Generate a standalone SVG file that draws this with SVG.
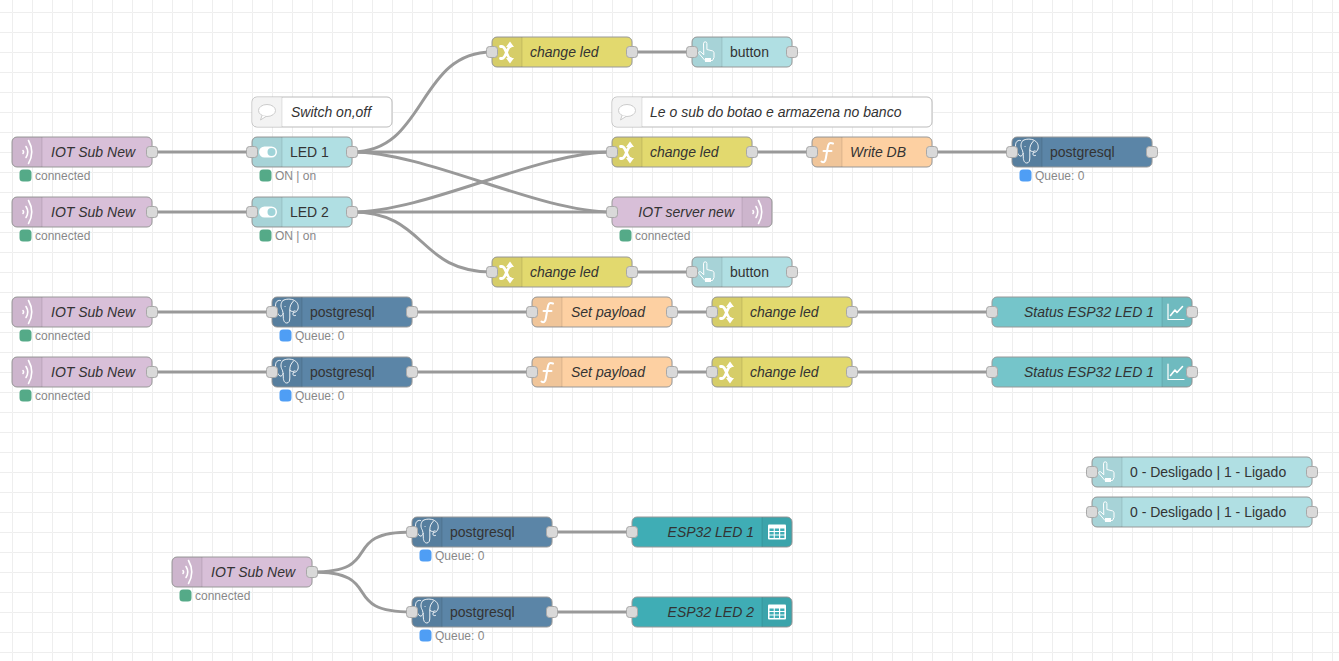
<svg xmlns="http://www.w3.org/2000/svg" xmlns:xlink="http://www.w3.org/1999/xlink" width="1339" height="661" viewBox="0 0 1339 661">
<style>
text{font-family:"Liberation Sans",Arial,sans-serif}
.b{stroke:#999;stroke-width:1}
.c{stroke:#bbb;stroke-width:1;fill:#fff}
.l{font-size:14px;fill:#333}
.i{font-style:italic}
.e{text-anchor:end}
.s{font-size:12px;fill:#888}
.p{fill:#d9d9d9;stroke:#a8a8a8;stroke-width:1}
.w{fill:none;stroke:#999;stroke-width:3}
.d{fill:#000;fill-opacity:.05}
.sep{stroke:#000;stroke-opacity:.1;stroke-width:1}
.ic{fill:none;stroke:#fff;stroke-width:1.600;stroke-linecap:round;stroke-linejoin:round}
.sub{fill:#d8bfd8}.chg{fill:#e2d96e}.btn{fill:#b0dfe3}.fn{fill:#fdd0a2}.pg{fill:#5b85a7}.ch{fill:#75c5ca}.tb{fill:#3fadb5}
.g{fill:#55aa88;stroke:#55aa88;stroke-width:3;stroke-linejoin:round}
.q{fill:#4f9ef5;stroke:#4f9ef5;stroke-width:3;stroke-linejoin:round}
</style>
<defs>
<pattern id="grid" x="12" y="12" width="20" height="20" patternUnits="userSpaceOnUse"><path d="M20 .5H.5V20" fill="none" stroke="#eee" stroke-width="1"/></pattern>
<g id="wave" class="ic"><path d="M11 13.500Q12.300 15 11 16.500"/><path d="M14 9.500Q17.500 15 14 20.500"/><path d="M16.500 3.500Q23 15 16.500 26.500"/></g>
<g id="swap"><path class="ic" style="stroke-width:2.800" d="M8.500 9.500h1.500c4 0 5 12 8.500 12M8.500 21.500h1.500c4 0 5-12 8.500-12"/><path fill="#fff" d="M18 4.500l4 5.500h-8zM18 26.500l4-5.500h-8z"/></g>
<g id="hand"><path class="ic" style="stroke-width:1" d="M11.500 6.500a1.700 1.700 0 0 1 3.400 0V12.500l5.300 1.300c1.200.3 1.800 1 1.800 2.200V20.500L20.500 23.500H13L7 16.500c-.9-1 .6-2.600 1.700-1.700L11.500 17.500z"/><rect x="13" y="21" width="6" height="4" fill="#fff"/></g>
<g id="func"><path class="ic" style="stroke-width:2" d="M21 6.500C17.500 5 16.300 6.800 15.700 10.500L13.800 21.500C13.300 25 11.500 26 9.500 24.500M11.500 14H19.500"/></g>
<g id="pgi"><path class="ic" style="stroke-width:.9" d="M8.500 3.500C4.500 2.500 2.800 6.500 3.800 11c.8 3.500 2.200 7 4.200 8 1.500.7 2.500-1 3.200-2.500M11 3.500C13.500 1.800 19 1.500 22.500 3.500c3.500 2 4.200 5.500 3.500 8.500-.6 2.500-3 3.500-5 3.800V17.500c0 1 1.500 1.500 2.500 1M11 3.500C8.500 5.500 8.500 10 10 12.500c.8 1.300 1.300 4 1.300 7.500 0 4 1.500 6 3.500 6s3-2 3-5v-8c0-4 1-6 3.700-9M13 9.500h.1M18 13.500c1.500 1.300 3.500 1.300 5 .3"/></g>
<g id="tog"><rect x="7" y="9.500" width="18" height="11" rx="5.500" fill="#fff"/><circle cx="19.500" cy="15" r="4" fill="#9fd3d8"/></g>
<g id="cmt"><ellipse cx="15" cy="13.500" rx="8.500" ry="6" fill="#fff" stroke="#ccc"/><path d="M10 18.500L8.500 23 14 19.500" fill="#fff" stroke="#ccc"/></g>
<g id="chi"><path class="ic" style="stroke-width:1.200" d="M6 7V22.500H22"/><path class="ic" style="stroke-width:1.600" d="M8.500 18.500L13 13l2 2.500L20.500 9.500"/></g>
<g id="tbi"><rect x="6" y="7.500" width="18" height="15" rx="1" fill="#fff"/><path fill="#3fadb5" d="M7.500 11.500h4.200v2.500H7.500zM12.800 11.500h4.200v2.500h-4.200zM18.200 11.500h4.200v2.500h-4.200zM7.500 15h4.200v2.500H7.500zM12.800 15h4.200v2.500h-4.200zM18.200 15h4.200v2.500h-4.200zM7.500 18.500h4.200v2.500H7.500zM12.800 18.500h4.200v2.500h-4.200zM18.200 18.500h4.200v2.500h-4.200z"/></g>
<rect id="pt" class="p" x="-5.500" y="-5.500" width="11" height="11" rx="3"/>
</defs>
<rect width="1339" height="661" fill="#fff"/>
<rect width="1339" height="661" fill="url(#grid)"/>
<g id="connectors">
<path class="w" d="M152 152H252"/>
<path class="w" d="M152 212H252"/>
<path class="w" d="M352 152C427 152 417 52 492 52"/>
<path class="w" d="M352 152C427 152 537 152 612 152"/>
<path class="w" d="M352 152C427 152 537 212 612 212"/>
<path class="w" d="M352 212C427 212 537 152 612 152"/>
<path class="w" d="M352 212C427 212 537 212 612 212"/>
<path class="w" d="M352 212C427 212 417 272 492 272"/>
<path class="w" d="M632 52H692"/>
<path class="w" d="M632 272H692"/>
<path class="w" d="M752 152H812"/>
<path class="w" d="M932 152H1012"/>
<path class="w" d="M152 312H272"/>
<path class="w" d="M152 372H272"/>
<path class="w" d="M412 312H532"/>
<path class="w" d="M412 372H532"/>
<path class="w" d="M672 312H712"/>
<path class="w" d="M672 372H712"/>
<path class="w" d="M852 312H992"/>
<path class="w" d="M852 372H992"/>
<path class="w" d="M312 572C387 572 337 532 412 532"/>
<path class="w" d="M312 572C387 572 337 612 412 612"/>
<path class="w" d="M552 532H632"/>
<path class="w" d="M552 612H632"/>
</g>
<g id="sub1" transform="translate(12 137)"><rect class="b sub" width="140" height="30" rx="5"/><path class="d" d="M5 0H30V30H5A5 5 0 0 1 0 25V5A5 5 0 0 1 5 0z"/><path class="sep" d="M30 0V30"/><use href="#wave"/><text class="l i" x="39" y="20">IOT Sub New</text><use href="#pt" x="140" y="15"/><rect class="g" x="9" y="34" width="9" height="9" rx="2"/><text class="s" x="23" y="43">connected</text></g>
<g id="sub2" transform="translate(12 197)"><rect class="b sub" width="140" height="30" rx="5"/><path class="d" d="M5 0H30V30H5A5 5 0 0 1 0 25V5A5 5 0 0 1 5 0z"/><path class="sep" d="M30 0V30"/><use href="#wave"/><text class="l i" x="39" y="20">IOT Sub New</text><use href="#pt" x="140" y="15"/><rect class="g" x="9" y="34" width="9" height="9" rx="2"/><text class="s" x="23" y="43">connected</text></g>
<g id="sub3" transform="translate(12 297)"><rect class="b sub" width="140" height="30" rx="5"/><path class="d" d="M5 0H30V30H5A5 5 0 0 1 0 25V5A5 5 0 0 1 5 0z"/><path class="sep" d="M30 0V30"/><use href="#wave"/><text class="l i" x="39" y="20">IOT Sub New</text><use href="#pt" x="140" y="15"/><rect class="g" x="9" y="34" width="9" height="9" rx="2"/><text class="s" x="23" y="43">connected</text></g>
<g id="sub4" transform="translate(12 357)"><rect class="b sub" width="140" height="30" rx="5"/><path class="d" d="M5 0H30V30H5A5 5 0 0 1 0 25V5A5 5 0 0 1 5 0z"/><path class="sep" d="M30 0V30"/><use href="#wave"/><text class="l i" x="39" y="20">IOT Sub New</text><use href="#pt" x="140" y="15"/><rect class="g" x="9" y="34" width="9" height="9" rx="2"/><text class="s" x="23" y="43">connected</text></g>
<g id="sub5" transform="translate(172 557)"><rect class="b sub" width="140" height="30" rx="5"/><path class="d" d="M5 0H30V30H5A5 5 0 0 1 0 25V5A5 5 0 0 1 5 0z"/><path class="sep" d="M30 0V30"/><use href="#wave"/><text class="l i" x="39" y="20">IOT Sub New</text><use href="#pt" x="140" y="15"/><rect class="g" x="9" y="34" width="9" height="9" rx="2"/><text class="s" x="23" y="43">connected</text></g>
<g id="led1" transform="translate(252 137)"><rect class="b btn" width="100" height="30" rx="5"/><path class="d" d="M5 0H30V30H5A5 5 0 0 1 0 25V5A5 5 0 0 1 5 0z"/><path class="sep" d="M30 0V30"/><use href="#tog"/><text class="l" x="38" y="20">LED 1</text><use href="#pt" y="15"/><use href="#pt" x="100" y="15"/><rect class="g" x="9" y="34" width="9" height="9" rx="2"/><text class="s" x="23" y="43">ON | on</text></g>
<g id="led2" transform="translate(252 197)"><rect class="b btn" width="100" height="30" rx="5"/><path class="d" d="M5 0H30V30H5A5 5 0 0 1 0 25V5A5 5 0 0 1 5 0z"/><path class="sep" d="M30 0V30"/><use href="#tog"/><text class="l" x="38" y="20">LED 2</text><use href="#pt" y="15"/><use href="#pt" x="100" y="15"/><rect class="g" x="9" y="34" width="9" height="9" rx="2"/><text class="s" x="23" y="43">ON | on</text></g>
<g id="cmt1" transform="translate(252 97)"><rect class="c" width="140" height="30" rx="5"/><path fill="#f3f3f3" d="M5 .5H30V29.500H5A4.500 4.500 0 0 1 .5 25V5A4.500 4.500 0 0 1 5 .5z"/><path class="sep" d="M30 0V30"/><use href="#cmt"/><text class="l i" x="39" y="20">Switch on,off</text></g>
<g id="cmt2" transform="translate(612 97)"><rect class="c" width="320" height="30" rx="5"/><path fill="#f3f3f3" d="M5 .5H30V29.500H5A4.500 4.500 0 0 1 .5 25V5A4.500 4.500 0 0 1 5 .5z"/><path class="sep" d="M30 0V30"/><use href="#cmt"/><text class="l i" x="38" y="20">Le o sub do botao e armazena no banco</text></g>
<g id="chg1" transform="translate(492 37)"><rect class="b chg" width="140" height="30" rx="5"/><path class="d" d="M5 0H30V30H5A5 5 0 0 1 0 25V5A5 5 0 0 1 5 0z"/><path class="sep" d="M30 0V30"/><use href="#swap"/><text class="l i" x="38" y="20">change led</text><use href="#pt" y="15"/><use href="#pt" x="140" y="15"/></g>
<g id="chg2" transform="translate(612 137)"><rect class="b chg" width="140" height="30" rx="5"/><path class="d" d="M5 0H30V30H5A5 5 0 0 1 0 25V5A5 5 0 0 1 5 0z"/><path class="sep" d="M30 0V30"/><use href="#swap"/><text class="l i" x="38" y="20">change led</text><use href="#pt" y="15"/><use href="#pt" x="140" y="15"/></g>
<g id="chg3" transform="translate(492 257)"><rect class="b chg" width="140" height="30" rx="5"/><path class="d" d="M5 0H30V30H5A5 5 0 0 1 0 25V5A5 5 0 0 1 5 0z"/><path class="sep" d="M30 0V30"/><use href="#swap"/><text class="l i" x="38" y="20">change led</text><use href="#pt" y="15"/><use href="#pt" x="140" y="15"/></g>
<g id="chg4" transform="translate(712 297)"><rect class="b chg" width="140" height="30" rx="5"/><path class="d" d="M5 0H30V30H5A5 5 0 0 1 0 25V5A5 5 0 0 1 5 0z"/><path class="sep" d="M30 0V30"/><use href="#swap"/><text class="l i" x="38" y="20">change led</text><use href="#pt" y="15"/><use href="#pt" x="140" y="15"/></g>
<g id="chg5" transform="translate(712 357)"><rect class="b chg" width="140" height="30" rx="5"/><path class="d" d="M5 0H30V30H5A5 5 0 0 1 0 25V5A5 5 0 0 1 5 0z"/><path class="sep" d="M30 0V30"/><use href="#swap"/><text class="l i" x="38" y="20">change led</text><use href="#pt" y="15"/><use href="#pt" x="140" y="15"/></g>
<g id="btn1" transform="translate(692 37)"><rect class="b btn" width="100" height="30" rx="5"/><path class="d" d="M5 0H30V30H5A5 5 0 0 1 0 25V5A5 5 0 0 1 5 0z"/><path class="sep" d="M30 0V30"/><use href="#hand"/><text class="l" x="38" y="20">button</text><use href="#pt" y="15"/><use href="#pt" x="100" y="15"/></g>
<g id="btn2" transform="translate(692 257)"><rect class="b btn" width="100" height="30" rx="5"/><path class="d" d="M5 0H30V30H5A5 5 0 0 1 0 25V5A5 5 0 0 1 5 0z"/><path class="sep" d="M30 0V30"/><use href="#hand"/><text class="l" x="38" y="20">button</text><use href="#pt" y="15"/><use href="#pt" x="100" y="15"/></g>
<g id="fn1" transform="translate(812 137)"><rect class="b fn" width="120" height="30" rx="5"/><path class="d" d="M5 0H30V30H5A5 5 0 0 1 0 25V5A5 5 0 0 1 5 0z"/><path class="sep" d="M30 0V30"/><use href="#func"/><text class="l i" x="38" y="20">Write DB</text><use href="#pt" y="15"/><use href="#pt" x="120" y="15"/></g>
<g id="fn2" transform="translate(532 297)"><rect class="b fn" width="140" height="30" rx="5"/><path class="d" d="M5 0H30V30H5A5 5 0 0 1 0 25V5A5 5 0 0 1 5 0z"/><path class="sep" d="M30 0V30"/><use href="#func"/><text class="l i" x="39" y="20">Set payload</text><use href="#pt" y="15"/><use href="#pt" x="140" y="15"/></g>
<g id="fn3" transform="translate(532 357)"><rect class="b fn" width="140" height="30" rx="5"/><path class="d" d="M5 0H30V30H5A5 5 0 0 1 0 25V5A5 5 0 0 1 5 0z"/><path class="sep" d="M30 0V30"/><use href="#func"/><text class="l i" x="39" y="20">Set payload</text><use href="#pt" y="15"/><use href="#pt" x="140" y="15"/></g>
<g id="pg1" transform="translate(1012 137)"><rect class="b pg" width="140" height="30" rx="5"/><path class="d" d="M5 0H30V30H5A5 5 0 0 1 0 25V5A5 5 0 0 1 5 0z"/><path class="sep" d="M30 0V30"/><use href="#pgi"/><text class="l" x="38" y="20">postgresql</text><use href="#pt" y="15"/><use href="#pt" x="140" y="15"/><rect class="q" x="9" y="34" width="9" height="9" rx="2"/><text class="s" x="23" y="43">Queue: 0</text></g>
<g id="pg2" transform="translate(272 297)"><rect class="b pg" width="140" height="30" rx="5"/><path class="d" d="M5 0H30V30H5A5 5 0 0 1 0 25V5A5 5 0 0 1 5 0z"/><path class="sep" d="M30 0V30"/><use href="#pgi"/><text class="l" x="38" y="20">postgresql</text><use href="#pt" y="15"/><use href="#pt" x="140" y="15"/><rect class="q" x="9" y="34" width="9" height="9" rx="2"/><text class="s" x="23" y="43">Queue: 0</text></g>
<g id="pg3" transform="translate(272 357)"><rect class="b pg" width="140" height="30" rx="5"/><path class="d" d="M5 0H30V30H5A5 5 0 0 1 0 25V5A5 5 0 0 1 5 0z"/><path class="sep" d="M30 0V30"/><use href="#pgi"/><text class="l" x="38" y="20">postgresql</text><use href="#pt" y="15"/><use href="#pt" x="140" y="15"/><rect class="q" x="9" y="34" width="9" height="9" rx="2"/><text class="s" x="23" y="43">Queue: 0</text></g>
<g id="pg4" transform="translate(412 517)"><rect class="b pg" width="140" height="30" rx="5"/><path class="d" d="M5 0H30V30H5A5 5 0 0 1 0 25V5A5 5 0 0 1 5 0z"/><path class="sep" d="M30 0V30"/><use href="#pgi"/><text class="l" x="38" y="20">postgresql</text><use href="#pt" y="15"/><use href="#pt" x="140" y="15"/><rect class="q" x="9" y="34" width="9" height="9" rx="2"/><text class="s" x="23" y="43">Queue: 0</text></g>
<g id="pg5" transform="translate(412 597)"><rect class="b pg" width="140" height="30" rx="5"/><path class="d" d="M5 0H30V30H5A5 5 0 0 1 0 25V5A5 5 0 0 1 5 0z"/><path class="sep" d="M30 0V30"/><use href="#pgi"/><text class="l" x="38" y="20">postgresql</text><use href="#pt" y="15"/><use href="#pt" x="140" y="15"/><rect class="q" x="9" y="34" width="9" height="9" rx="2"/><text class="s" x="23" y="43">Queue: 0</text></g>
<g id="srv" transform="translate(612 197)"><rect class="b sub" width="160" height="30" rx="5"/><path class="d" d="M130 0H155A5 5 0 0 1 160 5V25A5 5 0 0 1 155 30H130z"/><path class="sep" d="M130 0V30"/><use href="#wave" x="130"/><text class="l i e" x="122" y="20">IOT server new</text><use href="#pt" y="15"/><rect class="g" x="9" y="34" width="9" height="9" rx="2"/><text class="s" x="23" y="43">connected</text></g>
<g id="st1" transform="translate(992 297)"><rect class="b ch" width="200" height="30" rx="5"/><path class="d" d="M170 0H195A5 5 0 0 1 200 5V25A5 5 0 0 1 195 30H170z"/><path class="sep" d="M170 0V30"/><use href="#chi" x="170"/><text class="l i e" x="162" y="20">Status ESP32 LED 1</text><use href="#pt" y="15"/><use href="#pt" x="200" y="15"/></g>
<g id="st2" transform="translate(992 357)"><rect class="b ch" width="200" height="30" rx="5"/><path class="d" d="M170 0H195A5 5 0 0 1 200 5V25A5 5 0 0 1 195 30H170z"/><path class="sep" d="M170 0V30"/><use href="#chi" x="170"/><text class="l i e" x="162" y="20">Status ESP32 LED 1</text><use href="#pt" y="15"/><use href="#pt" x="200" y="15"/></g>
<g id="dash1" transform="translate(1092 457)"><rect class="b btn" width="220" height="30" rx="5"/><path class="d" d="M5 0H30V30H5A5 5 0 0 1 0 25V5A5 5 0 0 1 5 0z"/><path class="sep" d="M30 0V30"/><use href="#hand"/><text class="l" x="38" y="20">0 - Desligado | 1 - Ligado</text><use href="#pt" y="15"/><use href="#pt" x="220" y="15"/></g>
<g id="dash2" transform="translate(1092 497)"><rect class="b btn" width="220" height="30" rx="5"/><path class="d" d="M5 0H30V30H5A5 5 0 0 1 0 25V5A5 5 0 0 1 5 0z"/><path class="sep" d="M30 0V30"/><use href="#hand"/><text class="l" x="38" y="20">0 - Desligado | 1 - Ligado</text><use href="#pt" y="15"/><use href="#pt" x="220" y="15"/></g>
<g id="tb1" transform="translate(632 517)"><rect class="b tb" width="160" height="30" rx="5"/><path class="d" d="M130 0H155A5 5 0 0 1 160 5V25A5 5 0 0 1 155 30H130z"/><path class="sep" d="M130 0V30"/><use href="#tbi" x="130"/><text class="l i e" x="122" y="20">ESP32 LED 1</text><use href="#pt" y="15"/></g>
<g id="tb2" transform="translate(632 597)"><rect class="b tb" width="160" height="30" rx="5"/><path class="d" d="M130 0H155A5 5 0 0 1 160 5V25A5 5 0 0 1 155 30H130z"/><path class="sep" d="M130 0V30"/><use href="#tbi" x="130"/><text class="l i e" x="122" y="20">ESP32 LED 2</text><use href="#pt" y="15"/></g>
</svg>
